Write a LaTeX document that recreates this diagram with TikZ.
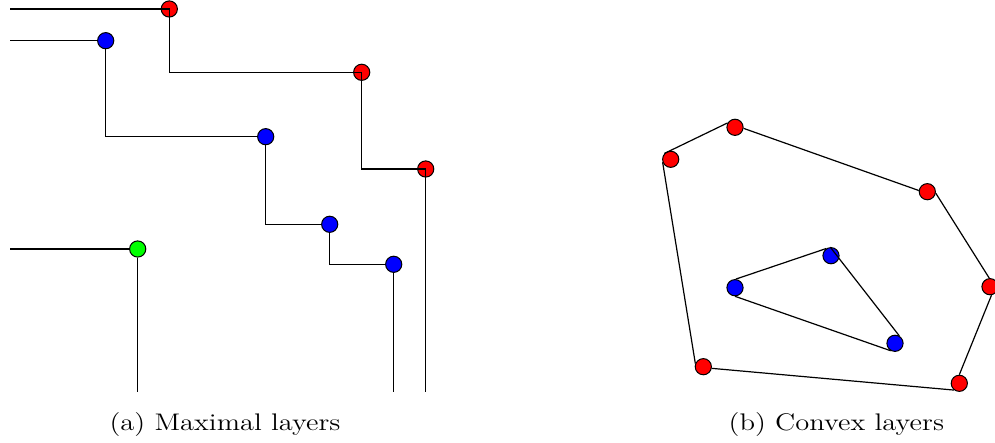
\documentclass[tikz,border=0pt]{standalone}
\usepackage{graphicx}
\begin{document}
\begin{tikzpicture}[x=0.5pt,y=-0.5pt,
  dot/.style={circle,draw=black,line width=0.5pt,inner sep=0pt,minimum size=8.1pt},
  reddot/.style={dot,fill=red},
  bluedot/.style={dot,fill=blue},
  greendot/.style={dot,fill=green},
  layer/.style={draw=black,line width=0.6pt},
  captext/.style={font=\fontsize{12}{14}\selectfont,inner sep=0pt,anchor=base}]
\useasboundingbox (0,0) rectangle (995,443);
% ---------- (a) maximal layers ----------
\node[reddot] (r1) at (169.3,9) {};
\node[reddot] (r2) at (361.7,72.3) {};
\node[reddot] (r3) at (425.7,169) {};
\node[bluedot] (b1) at (105.7,40.7) {};
\node[bluedot] (b2) at (265.7,136.7) {};
\node[bluedot] (b3) at (329.7,224.3) {};
\node[bluedot] (b4) at (393.7,264.3) {};
\node[greendot] (g1) at (137.7,249) {};
\coordinate (r0) at (10,9);
\coordinate (b0) at (10,40.7);
\coordinate (g0) at (10,249);
\coordinate (rend) at (425.7,392.3);
\coordinate (bend) at (393.7,392.3);
\coordinate (gend) at (137.7,392.3);
\draw[layer] (r0) -- (r1.center) |- (r2.center) |- (r3.center) -- (rend);
\draw[layer] (b0) -- (b1) |- (b2) |- (b3) |- (b4) -- (bend);
\draw[layer] (g0) -- (g1) -- (gend);
% ---------- (b) convex layers ----------
\node[reddot] (R1) at (670.7,159.3) {};
\node[reddot] (R2) at (735,127.3) {};
\node[reddot] (R3) at (927.3,191.7) {};
\node[reddot] (R4) at (990,286.7) {};
\node[reddot] (R5) at (959.3,383.3) {};
\node[reddot] (R6) at (703.3,366.7) {};
\node[bluedot] (B1) at (831,255.7) {};
\node[bluedot] (B2) at (735,287.7) {};
\node[bluedot] (B3) at (895,343.3) {};
\draw[layer] (R1.137) -- (R2.149);
\draw[layer] (R2.-7) -- (R3.172);
\draw[layer] (R3.-10) -- (R4.95);
\draw[layer] (R4.-80) -- (R5.90);
\draw[layer] (R5.232) -- (R6.-11);
\draw[layer] (R6.158) -- (R1.200);
\draw[layer] (B2.85) -- (B1.123);
\draw[layer] (B1.95) -- (B3.60);
\draw[layer] (B3.240) -- (B2.270);
% ---------- captions ----------
\node[captext] (capa) at (225,430) {\scalebox{1.19}[1]{(a) Maximal layers}};
\node[captext] (capb) at (836.3,430) {\scalebox{1.19}[1]{(b) Convex layers}};
\end{tikzpicture}
\end{document}
